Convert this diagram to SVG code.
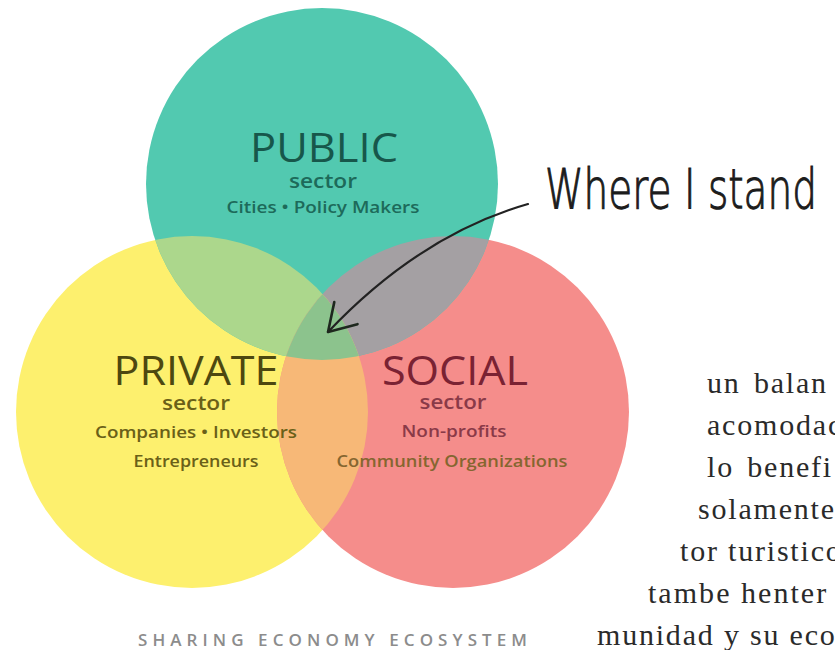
<svg xmlns="http://www.w3.org/2000/svg" width="835" height="650" viewBox="0 0 835 650">
<style>
.lbl{font-family:"Open Sans","Noto Sans","DejaVu Sans",sans-serif;text-anchor:middle}
.big{font-size:40px;font-weight:400}
.sec{font-size:19px;font-weight:600}
.det{font-size:17px;font-weight:600}
.pub{fill:#17574b}.pubs{fill:#1d6a5a}
.pri{fill:#4d4810}.pris{fill:#6a6018}
.soc{fill:#7a2233}.socs{fill:#8a3a48}.soco{fill:#856630}
.body{font-family:"Liberation Serif","Times New Roman",serif;font-size:30px;fill:#2a2a2a;letter-spacing:1.8px}
.hand{font-family:"DejaVu Sans",sans-serif;font-size:34px;fill:#1c1c1c;font-weight:200;stroke:#1c1c1c;stroke-width:0.7}
.cap{font-family:"Open Sans","Noto Sans",sans-serif;font-size:17px;fill:#8c8c8c;font-weight:600}
.arrow{fill:none;stroke:#222;stroke-width:2.2;stroke-linecap:round}
</style>
<defs>
<clipPath id="cPub"><circle cx="322" cy="184" r="176"/></clipPath>
<clipPath id="cPri"><circle cx="192" cy="412" r="176"/></clipPath>
<clipPath id="cSoc"><circle cx="453" cy="412" r="176"/></clipPath>
<marker id="openHead" markerUnits="userSpaceOnUse" viewBox="-30 -20 34 40" refX="0" refY="0" markerWidth="34" markerHeight="40" orient="auto" overflow="visible">
<path d="M-26,-16 L0,0 L-26,16" fill="none" stroke="#1e281e" stroke-width="2.6" stroke-linecap="round" stroke-linejoin="round"/>
</marker>
</defs>
<rect width="835" height="650" fill="#ffffff"/>
<g id="regions">
<circle id="circle-private" cx="192" cy="412" r="176" fill="#fdf06e"/>
<circle id="circle-social" cx="453" cy="412" r="176" fill="#f58d8b"/>
<circle id="circle-public" cx="322" cy="184" r="176" fill="#52c9b0"/>
<circle cx="192" cy="412" r="176" fill="#acd78c" clip-path="url(#cPub)"/>
<circle cx="453" cy="412" r="176" fill="#a4a0a3" clip-path="url(#cPub)"/>
<circle cx="453" cy="412" r="176" fill="#f7b877" clip-path="url(#cPri)"/>
<g clip-path="url(#cPub)"><circle cx="453" cy="412" r="176" fill="#8cc38d" clip-path="url(#cPri)"/></g>
</g>
<g id="public">
<text class="lbl big pub" x="324" y="162" textLength="148" lengthAdjust="spacingAndGlyphs">PUBLIC</text>
<text class="lbl sec pubs" x="323" y="188" textLength="68" lengthAdjust="spacingAndGlyphs">sector</text>
<text class="lbl det pubs" x="323" y="213" textLength="193" lengthAdjust="spacingAndGlyphs">Cities • Policy Makers</text>
</g>
<g id="private">
<text class="lbl big pri" x="196" y="385" textLength="165" lengthAdjust="spacingAndGlyphs">PRIVATE</text>
<text class="lbl sec pris" x="196" y="410" textLength="68" lengthAdjust="spacingAndGlyphs">sector</text>
<text class="lbl det pris" x="196" y="438" textLength="202" lengthAdjust="spacingAndGlyphs">Companies • Investors</text>
<text class="lbl det pris" x="196" y="467" textLength="125" lengthAdjust="spacingAndGlyphs">Entrepreneurs</text>
</g>
<g id="social">
<text class="lbl big soc" x="455" y="385" textLength="146" lengthAdjust="spacingAndGlyphs">SOCIAL</text>
<text class="lbl sec socs" x="453" y="409" textLength="67" lengthAdjust="spacingAndGlyphs">sector</text>
<text class="lbl det socs" x="454" y="437" textLength="105" lengthAdjust="spacingAndGlyphs">Non-profits</text>
<text class="lbl det soco" x="452" y="467" textLength="231" lengthAdjust="spacingAndGlyphs">Community Organizations</text>
</g>
<g id="connectors">
<path class="arrow" d="M528,204 Q420,235 328,332" marker-end="url(#openHead)"/>
</g>
<g id="annotation">
<text class="hand" transform="translate(545,208) scale(1,1.6)" x="0" y="0" textLength="272" lengthAdjust="spacingAndGlyphs">Where I stand</text>
</g>
<g id="body-text">
<text class="body" x="707" y="393" word-spacing="4">un balan</text>
<text class="body" x="707" y="435">acomodac</text>
<text class="body" x="707" y="477" word-spacing="4">lo benefi</text>
<text class="body" x="698" y="519">solamente</text>
<text class="body" x="680" y="561">tor turistico</text>
<text class="body" x="648" y="603" textLength="180">tambe henter</text>
<text class="body" x="597" y="645">munidad y su eco</text>
</g>
<text class="cap" x="138" y="646" textLength="389" lengthAdjust="spacing">SHARING ECONOMY ECOSYSTEM</text>
</svg>
